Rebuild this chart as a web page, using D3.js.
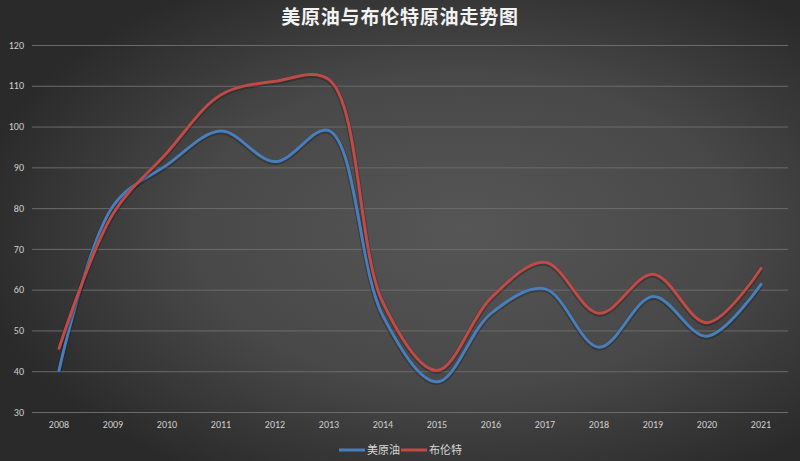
<!DOCTYPE html>
<html>
<head>
<meta charset="utf-8">
<script src="https://cdn.jsdelivr.net/npm/d3@7"></script>
<style>
  body { margin: 0; background: #333; }
  svg { display: block; font-family: "Noto Sans CJK SC", "Noto Sans", sans-serif; }
</style>
</head>
<body>
<div id="chart"></div>
<script>
var years = ["2008","2009","2010","2011","2012","2013","2014","2015","2016","2017","2018","2019","2020","2021"];
var wti   = [40.2, 80.5, 90.6, 98.9, 91.4, 99.0, 53.5, 37.4, 54.2, 60.2, 45.9, 58.3, 48.6, 61.3];
var brent = [45.6, 78.6, 93.6, 107.8, 111.1, 111.5, 56.8, 40.2, 58.0, 66.7, 54.2, 63.8, 51.9, 65.2];
var yTicks = [30, 40, 50, 60, 70, 80, 90, 100, 110, 120];
var seriesNames = ["美原油", "布伦特"];
var seriesColors = ["#4a7ebb", "#be4b48"];

var W = 800, H = 461;
var margin = {top: 45, right: 12, bottom: 49, left: 32},
    width = W - margin.left - margin.right,
    height = H - margin.top - margin.bottom;

var svg = d3.select("#chart")
  .append("svg")
    .attr("width", W)
    .attr("height", H);

// dark radial background
var defs = svg.append("defs");
var grad = defs.append("radialGradient")
    .attr("id", "bg")
    .attr("cx", "58%").attr("cy", "50%").attr("r", "62%");
grad.append("stop").attr("offset", "0%").attr("stop-color", "#565656");
grad.append("stop").attr("offset", "55%").attr("stop-color", "#484848");
grad.append("stop").attr("offset", "100%").attr("stop-color", "#2a2a2a");

svg.append("rect")
    .attr("width", W).attr("height", H)
    .attr("fill", "url(#bg)");

// title
svg.append("text")
    .attr("x", 400)
    .attr("y", 24)
    .attr("text-anchor", "middle")
    .attr("fill", "#f2f2f2")
    .attr("font-size", 19)
    .attr("font-weight", "bold")
    .attr("letter-spacing", 0.8)
    .text("美原油与布伦特原油走势图");

var g = svg.append("g")
    .attr("transform", "translate(" + margin.left + "," + margin.top + ")");

// scales
var x = d3.scaleBand()
    .domain(years)
    .range([0, width]);

var y = d3.scaleLinear()
    .domain([30, 120])
    .range([height, 0]);

// grid + y axis
var yAxis = g.append("g")
    .call(d3.axisLeft(y).tickValues(yTicks).tickSize(-width).tickPadding(8));
yAxis.select(".domain").remove();
yAxis.selectAll(".tick line")
    .attr("stroke", "#6b6b6b")
    .attr("stroke-width", 1);
yAxis.selectAll(".tick text")
    .attr("fill", "#cfcfcf")
    .attr("font-size", 10)
    .attr("font-family", "Calibri, 'Liberation Sans', 'DejaVu Sans', sans-serif");

// x axis
var xAxis = g.append("g")
    .attr("transform", "translate(0," + height + ")")
    .call(d3.axisBottom(x).tickSize(0).tickPadding(9));
xAxis.select(".domain").remove();
xAxis.selectAll(".tick text")
    .attr("fill", "#cfcfcf")
    .attr("font-size", 10)
    .attr("font-family", "Calibri, 'Liberation Sans', 'DejaVu Sans', sans-serif");

// smoothed lines
var line = d3.line()
    .x(function(d, i) { return x(years[i]) + x.bandwidth() / 2; })
    .y(function(d) { return y(d); })
    .curve(d3.curveCatmullRom.alpha(0.5));

[wti, brent].forEach(function(s, k) {
  g.append("path")
    .datum(s)
    .attr("fill", "none")
    .attr("stroke", "#1a1a1a")
    .attr("stroke-opacity", 0.35)
    .attr("stroke-width", 5)
    .attr("transform", "translate(0,1)")
    .attr("d", line);
  g.append("path")
    .datum(s)
    .attr("fill", "none")
    .attr("stroke", seriesColors[k])
    .attr("stroke-width", 3)
    .attr("stroke-linecap", "round")
    .attr("d", line);
});

// legend
var legend = svg.append("g")
    .attr("transform", "translate(339,450)");
var lx = [0, 62];
seriesNames.forEach(function(name, k) {
  var item = legend.append("g").attr("transform", "translate(" + lx[k] + ",0)");
  item.append("line")
    .attr("x1", 0).attr("x2", 26)
    .attr("y1", 0).attr("y2", 0)
    .attr("stroke", seriesColors[k])
    .attr("stroke-width", 3);
  item.append("text")
    .attr("x", 28)
    .attr("y", 4)
    .attr("fill", "#d9d9d9")
    .attr("font-size", 11)
    .text(name);
});
</script>
</body>
</html>
